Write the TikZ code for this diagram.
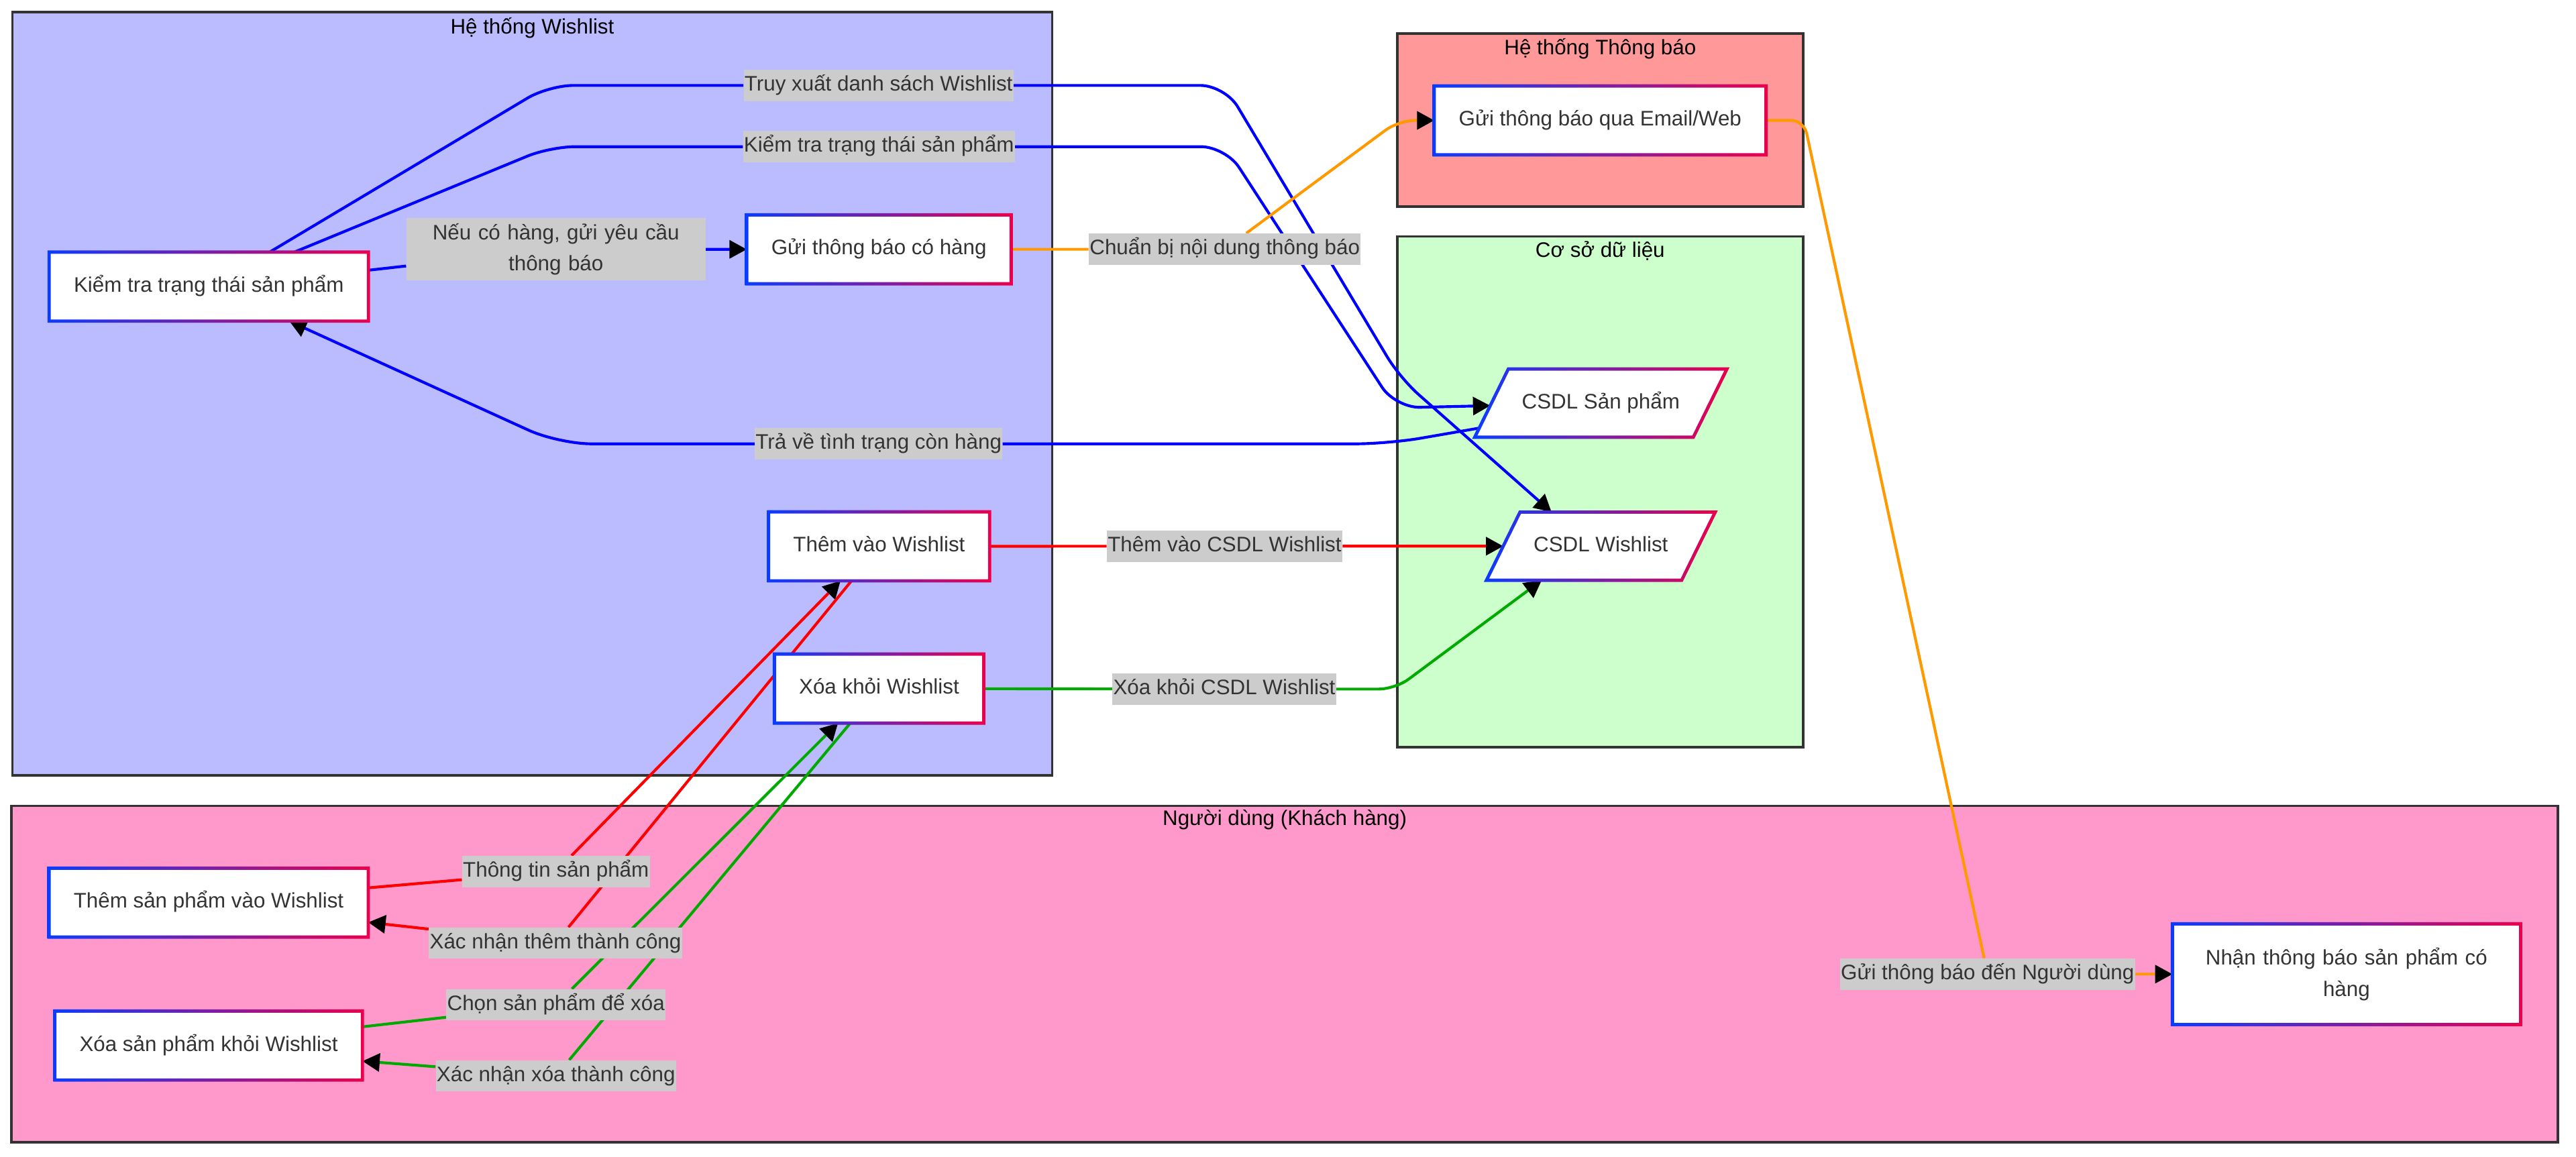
\documentclass[tikz,border=0pt]{standalone}
\usepackage{fontspec}
\setmainfont{Liberation Sans}
\usetikzlibrary{positioning,shapes.geometric,arrows.meta}

\definecolor{txt}{HTML}{333333}
\definecolor{lblgray}{HTML}{CCCCCC}
\definecolor{clborder}{HTML}{333333}
\definecolor{wlfill}{HTML}{BBBBFF}
\definecolor{tbfill}{HTML}{FF9999}
\definecolor{dbfill}{HTML}{CCFFCC}
\definecolor{udfill}{HTML}{FF99CC}
\definecolor{gblue}{HTML}{0A3CFF}
\definecolor{gred}{HTML}{EB004C}
\definecolor{eblue}{HTML}{0000FF}
\definecolor{eorange}{HTML}{FF9900}
\definecolor{ered}{HTML}{FF0000}
\definecolor{egreen}{HTML}{00AA00}

\pgfdeclarelayer{bg}
\pgfdeclarelayer{edges}
\pgfsetlayers{bg,edges,main}

\begin{document}
\begin{tikzpicture}[x=1pt, y=-1pt,
	font=\fontsize{12.8}{19}\selectfont,
	box/.style={rectangle, fill=white, text=txt, inner xsep=15pt, inner ysep=0pt, outer sep=0pt, minimum height=42pt, text height=9.4pt, text depth=2.7pt},
	boxml/.style={rectangle, fill=white, text=txt, inner xsep=15pt, inner ysep=0pt, outer sep=0pt, align=center, text width=182pt, minimum height=61.3pt},
	db/.style={trapezium, trapezium left angle=63.8, trapezium right angle=116.2, fill=white, text=txt, inner xsep=8.3pt, inner ysep=14.7pt, outer sep=0pt, text height=9.4pt, text depth=2.7pt},
	lbl/.style={fill=lblgray, text=txt, inner xsep=0.5pt, inner ysep=0pt, minimum height=19pt, text height=9.4pt, text depth=2.7pt},
	lblml/.style={fill=lblgray, text=txt, inner sep=0pt, align=center, text width=182pt, minimum height=38pt},
	cluster/.style={draw=clborder, line width=1.5pt},
	ctitle/.style={text=black, inner sep=0pt, text height=9.4pt, text depth=2.7pt},
	flow/.style={line width=1.7pt, rounded corners=15pt, -{Triangle[length=10.5pt,width=11pt,color=black]}},
	]
	% subgraph frames
	\begin{pgfonlayer}{bg}
		\path[use as bounding box, fill=white] (0,0) rectangle (1568,704);
		\draw[cluster, fill=wlfill] (7.5,7.3) rectangle (640.4,472);
		\draw[cluster, fill=tbfill] (850.5,20.4) rectangle (1097.7,125.8);
		\draw[cluster, fill=dbfill] (850.5,144) rectangle (1097.7,455);
		\draw[cluster, fill=udfill] (6.9,490.6) rectangle (1557,695.4);
	\end{pgfonlayer}
	\node[ctitle] (twl) at (324,17.3) {Hệ thống Wishlist};
	\node[ctitle] (ttb) at (974,30.1) {Hệ thống Thông báo};
	\node[ctitle] (tdb) at (974,153.1) {Cơ sở dữ liệu};
	\node[ctitle] (tud) at (782,499) {Người dùng (Khách hàng)};

	% steps
	\node[box] (kt) at (127.1,174.5) {Kiểm tra trạng thái sản phẩm};
	\node[box] (gtb) at (535,151.8) {Gửi thông báo có hàng};
	\node[box] (tvw) at (535.1,332.6) {Thêm vào Wishlist};
	\node[box, below=44.6pt of tvw] (xkw) {Xóa khỏi Wishlist};
	\node[box] (gtbe) at (974,73.3) {Gửi thông báo qua Email/Web};
	\node[db] (csp) at (974.4,245.4) {CSDL Sản phẩm};
	\node[db, below=45.6pt of csp] (cw) {CSDL Wishlist};
	\node[box] (tsp) at (127,549.5) {Thêm sản phẩm vào Wishlist};
	\node[box, below=45pt of tsp] (xsp) {Xóa sản phẩm khỏi Wishlist};
	\node[boxml] (ntb) at (1428.3,593.1) {Nhận thông báo sản phẩm có\\hàng};

	% edge labels
	\node[lbl] (truy) at (534.8,52) {Truy xuất danh sách Wishlist};
	\node[lbl] (ktra) at (535,89.3) {Kiểm tra trạng thái sản phẩm};
	\node[lblml] (neu) at (338.4,151.8) {Nếu có hàng, gửi yêu cầu\\thông báo};
	\node[lbl] (chuan) at (745.5,151.7) {Chuẩn bị nội dung thông báo};
	\node[lbl] (trave) at (534.8,270.2) {Trả về tình trạng còn hàng};
	\node[lbl] (themdb) at (745.4,332.5) {Thêm vào CSDL Wishlist};
	\node[lbl] (xoadb) at (745.2,419.5) {Xóa khỏi CSDL Wishlist};
	\node[lbl] (guind) at (1209.8,593) {Gửi thông báo đến Người dùng};
	\node[lbl] (ttin) at (338.4,530.6) {Thông tin sản phẩm};
	\node[lbl] (xnthem) at (338.1,574.2) {Xác nhận thêm thành công};
	\node[lbl] (chon) at (338.4,611.7) {Chọn sản phẩm để xóa};
	\node[lbl] (xnxoa) at (338.4,655) {Xác nhận xóa thành công};

	% gradient borders, 2pt centred on the node outline
	\foreach \n in {kt,gtb,tvw,xkw,gtbe,tsp,xsp,ntb}
		\shade[even odd rule, left color=gblue, right color=gred]
			([shift={(-1pt,1pt)}]\n.north west) rectangle ([shift={(1pt,-1pt)}]\n.south east)
			([shift={(1pt,-1pt)}]\n.north west) rectangle ([shift={(-1pt,1pt)}]\n.south east);
	\foreach \n in {csp,cw}
		\shade[even odd rule, left color=gblue, right color=gred]
			([shift={(-1.6pt,-1pt)}]\n.bottom left corner) -- ([shift={(-0.6pt,1pt)}]\n.top left corner)
			-- ([shift={(1.6pt,1pt)}]\n.top right corner) -- ([shift={(0.6pt,-1pt)}]\n.bottom right corner) -- cycle
			([shift={(1.6pt,1pt)}]\n.bottom left corner) -- ([shift={(0.6pt,-1pt)}]\n.top left corner)
			-- ([shift={(-1.6pt,-1pt)}]\n.top right corner) -- ([shift={(-0.6pt,1pt)}]\n.bottom right corner) -- cycle;

	\begin{pgfonlayer}{edges}
		\draw[flow, eblue] ([xshift=37pt]kt.north) -- (334,52) -- (truy) -- (745.6,52) -- (852,230) -- ([xshift=-30pt]cw.north);
		\draw[flow, eblue] ([xshift=52pt]kt.north) -- (335,89.3) -- (ktra) -- (746,89.3) -- (849.4,248.3) -- (csp);
		\draw[flow, eblue] ([yshift=10pt]kt.east) -- (neu) -- (gtb);
		\draw[flow, eblue, rounded corners=20pt] ([shift={(2.5pt,5.5pt)}]csp.bottom left corner) -- (845,270.2) -- (trave) -- (340,270.2) -- ([xshift=49pt]kt.south);
		\draw[flow, eorange, rounded corners=10pt] (gtb) -- (chuan) -- (851.4,73.3) -- (gtbe);
		\draw[flow, eorange, rounded corners=8pt] (gtbe) -- (1098,73.3) -- (guind) -- (ntb);
		\draw[flow, ered] (tvw) -- (themdb) -- (cw);
		\draw[flow, egreen, rounded corners=10pt] (xkw) -- (xoadb) -- (849.3,419.5) -- ([xshift=-36pt]cw.south);
		\draw[flow, ered] ([yshift=9pt]tsp.east) -- (ttin) -- ([xshift=-23.5pt]tvw.south);
		\draw[flow, ered] ([xshift=-16.8pt]tvw.south) -- (xnthem) -- ([yshift=-12pt]tsp.east);
		\draw[flow, egreen] ([yshift=11.4pt]xsp.east) -- (chon) -- ([xshift=-25pt]xkw.south);
		\draw[flow, egreen] ([xshift=-17.5pt]xkw.south) -- (xnxoa) -- ([yshift=-9.5pt]xsp.east);
	\end{pgfonlayer}
\end{tikzpicture}
\end{document}
